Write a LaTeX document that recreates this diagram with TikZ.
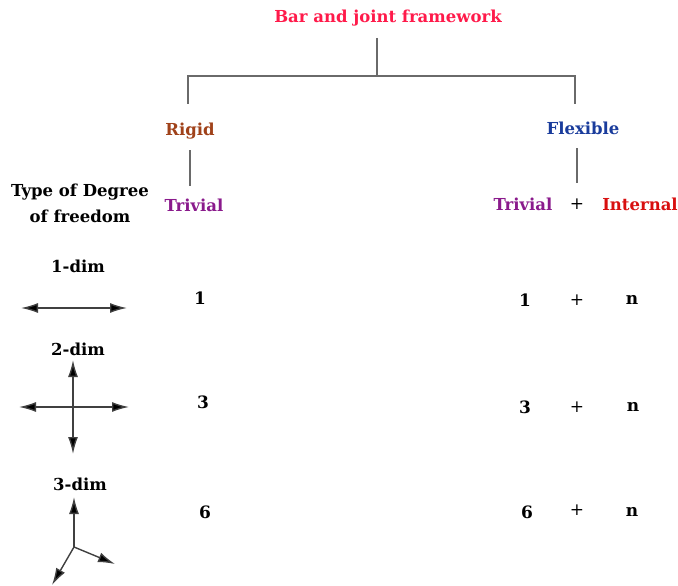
\documentclass[tikz,border=0pt]{standalone}
\usepackage{fontspec}
\setmainfont{DejaVu Serif}
\usetikzlibrary{arrows.meta}
\definecolor{titlered}{HTML}{FF1A4A}
\definecolor{rigidbrown}{HTML}{A0421A}
\definecolor{flexblue}{HTML}{1A3C9C}
\definecolor{trivpurple}{HTML}{8A1A8C}
\definecolor{intred}{HTML}{D80F0F}
\definecolor{linegray}{HTML}{6A6A6A}
\tikzset{
  lbl/.style={font=\bfseries\fontsize{16.5}{26}\selectfont, inner sep=0pt},
  val/.style={font=\bfseries\fontsize{17}{20}\selectfont, inner sep=0pt},
  plus/.style={font=\fontsize{17}{20}\selectfont, inner sep=0pt},
  tree/.style={draw=linegray, line width=1.6pt},
  axis/.style={draw=black!75, fill=black, line width=1.4pt, -{Latex[length=17pt,width=10pt,fill=black]}},
  axisboth/.style={draw=black!75, line width=1.4pt, {Latex[length=17pt,width=10pt,fill=black]}-{Latex[length=17pt,width=10pt,fill=black]}},
}
\begin{document}
\begin{tikzpicture}[x=1pt,y=-1pt]
\useasboundingbox (0,0) rectangle (678,586);

% hierarchy
\node[lbl, text=titlered] (title) at (388,18) {Bar and joint framework};
\node[lbl, text=rigidbrown] (rigid) at (190,131) {Rigid};
\node[lbl, text=flexblue] (flex) at (583,128) {Flexible};
\coordinate (stem) at (377,38);
\coordinate (junction) at (377,76);
\coordinate (lj) at (188,76);
\coordinate (rj) at (575,76);
\coordinate (ld) at (188,104);
\coordinate (rd) at (575,104);
\draw[tree] (stem) -- (junction);
\draw[tree] (ld) -- (lj) -- (rj) -- (rd);

% column headings
\node[lbl, text=trivpurple] (trivL) at (194,205) {Trivial};
\node[lbl, text=trivpurple] (trivR) at (523,204) {Trivial};
\node[plus] (plusH) at (577,204) {+};
\node[lbl, text=intred] (internal) at (640,204) {Internal};
\coordinate (rigidstem) at (190,150);
\coordinate (rigidfoot) at (190,186);
\coordinate (flexstem) at (577,148);
\coordinate (flexfoot) at (577,183);
\draw[tree, line width=1.3pt] (rigidstem) -- (rigidfoot);
\draw[tree, line width=1.3pt] (flexstem) -- (flexfoot);

\node[lbl, align=center] (dof) at (80,203) {Type of Degree\\of freedom};

% 1-dim
\node[lbl] (d1) at (78,266) {1-dim};
\coordinate (a1l) at (21,308);
\coordinate (a1r) at (127,308);
\draw[axisboth] (a1l) -- (a1r);
\node[val] (r1) at (200,298) {1};
\node[val] (f1) at (525,300) {1};
\node[plus] (p1) at (577,300) {+};
\node[val] (n1) at (632,300) {n};

% 2-dim
\node[lbl] (d2) at (78,349) {2-dim};
\coordinate (c2l) at (19,407);
\coordinate (c2r) at (129,407);
\coordinate (c2u) at (73,360);
\coordinate (c2d) at (73,454);
\draw[axisboth] (c2l) -- (c2r);
\draw[axisboth] (c2u) -- (c2d);
\node[val] (r2) at (203,402) {3};
\node[val] (f2) at (525,407) {3};
\node[plus] (p2) at (577,407) {+};
\node[val] (n2) at (633,407) {n};

% 3-dim
\node[lbl] (d3) at (80,484) {3-dim};
\coordinate (o3) at (74,547);
\coordinate (z3) at (74,497);
\coordinate (x3) at (115,564);
\coordinate (y3) at (52,585);
\draw[axis] (o3) -- (z3);
\draw[axis] (o3) -- (x3);
\draw[axis] (o3) -- (y3);
\node[val] (r3) at (205,512) {6};
\node[val] (f3) at (527,512) {6};
\node[plus] (p3) at (577,510) {+};
\node[val] (n3) at (632,512) {n};
\end{tikzpicture}
\end{document}
